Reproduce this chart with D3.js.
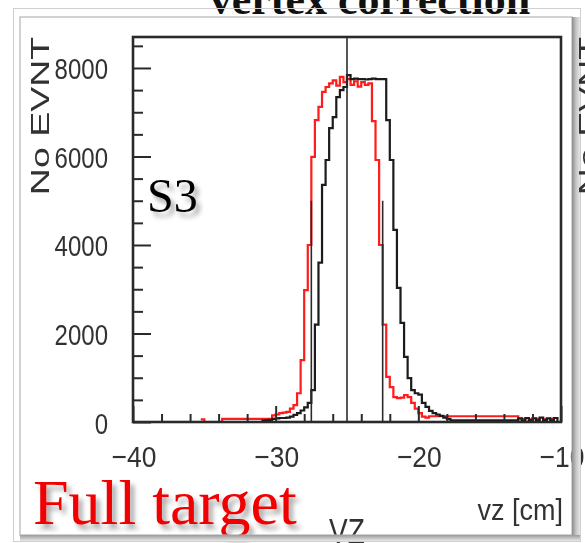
<!DOCTYPE html>
<html>
<head>
<meta charset="utf-8">
<script src="https://cdn.jsdelivr.net/npm/d3@7"></script>
<style>
  html, body { margin: 0; padding: 0; background: #fff; }
  svg { display: block; }
</style>
</head>
<body>
<div id="chart"></div>
<script>
// ---------------- DATA ----------------
const binWidth = 0.25;            // cm
const blackStart = -31.0;         // first bin low edge (cm)
const blackCounts = [
  30, 40, 50, 70, 80, 90, 90, 100, 120, 160, 200, 260, 330, 430, 720, 2200,
  3600, 5360, 5920, 6640, 6890, 7340, 7500, 7570, 7840,
  7750, 7760, 7750, 7750, 7740, 7750, 7760, 7750, 7750, 7750,
  6820, 5920, 4340, 3030, 2240, 1470, 990, 720, 650, 620, 430, 340, 250, 200,
  170, 140, 100, 70,
  40, 40, 40, 40, 40, 40, 40, 40, 40, 40, 40, 40, 40, 40, 40, 40, 40, 40, 40,
  80, 30, 90, 40, 80, 30, 100, 40, 80, 30, 90, 0
];
const redStart = -35.25;
const redCounts = [
  60, 0, 0, 0, 0, 0,
  70, 70, 70, 70, 70, 70, 70, 70, 70, 70, 70, 70, 70, 70,
  150, 170, 200, 210, 230, 300, 380, 650, 1400, 2980, 4000, 5990, 6820, 7120,
  7460, 7570, 7650, 7720, 7600, 7800, 7680, 7750, 7620, 7700, 7580, 7680, 7620, 7650,
  6800, 5920, 4000, 2200, 1020, 790, 560, 540, 550, 610, 560, 430, 300, 200, 120, 100,
  130, 130, 130, 130, 130, 130, 130, 130, 130, 130, 130, 130, 130, 130, 130, 130,
  130, 130, 130, 130, 130, 130, 130, 130, 130,
  0, 70, 0, 60, 0, 70, 0, 60, 0, 70, 0, 0
];
const centerLine = -25.0;
const cutLines = [-27.5, -22.5];
const cutLineTop = 5000;
const xDomain = [-40, -10];
const yDomain = [0, 8700];
const xMajorTicks = [-40, -30, -20, -10];
const xTickLabels = ["\u221240", "\u221230", "\u221220", "\u221210"];
const xMinorTicks = [-38, -36, -34, -32, -28, -26, -24, -22, -18, -16, -14, -12];
const yMajorTicks = [0, 2000, 4000, 6000, 8000];
const yTickLabels = ["0", "2000", "4000", "6000", "8000"];
const yMinorTicks = [500, 1000, 1500, 2500, 3000, 3500, 4500, 5000, 5500, 6500, 7000, 7500, 8500];
const yAxisTitle = "No EVNT";
const xAxisTitle = "vz [cm]";
const histTitle = "VZ";
const slideTitle = "vertex correction";
const panelLabel = "S3";
const caption = "Full target";

// ---------------- LAYOUT ----------------
const W = 585, H = 543;
const plot = { left: 133, right: 561, top: 37, bottom: 422 };

const svg = d3.select("#chart").append("svg")
  .attr("width", W).attr("height", H)
  .attr("font-family", "'Liberation Sans', Arial, sans-serif");

const defs = svg.append("defs");
const sh = defs.append("filter").attr("id", "shadow")
  .attr("x", "-20%").attr("y", "-20%").attr("width", "150%").attr("height", "160%");
sh.append("feDropShadow").attr("dx", 4).attr("dy", 5)
  .attr("stdDeviation", 2.5).attr("flood-color", "#000").attr("flood-opacity", 0.35);
const blur = defs.append("filter").attr("id", "soft");
blur.append("feGaussianBlur").attr("stdDeviation", 0.45);
const gradR = defs.append("linearGradient").attr("id", "gradR")
  .attr("x1", "0").attr("x2", "1").attr("y1", "0").attr("y2", "0");
gradR.append("stop").attr("offset", "0").attr("stop-color", "#8d8d8d");
gradR.append("stop").attr("offset", "0.5").attr("stop-color", "#c4c4c4");
gradR.append("stop").attr("offset", "1").attr("stop-color", "#e6e6e6");
const gradB = defs.append("linearGradient").attr("id", "gradB")
  .attr("x1", "0").attr("x2", "0").attr("y1", "0").attr("y2", "1");
gradB.append("stop").attr("offset", "0").attr("stop-color", "#9a9a9a");
gradB.append("stop").attr("offset", "1").attr("stop-color", "#e8e8e8");

svg.append("rect").attr("width", W).attr("height", H).attr("fill", "#fff");

// slide title (mostly cut off at top)
svg.append("text")
  .attr("x", 370).attr("y", 14)
  .attr("text-anchor", "middle")
  .attr("font-family", "'Liberation Serif', 'Times New Roman', serif")
  .attr("font-weight", "bold")
  .attr("font-size", 44)
  .attr("fill", "#111")
  .text(slideTitle);

// ---------------- SCALES ----------------
const x = d3.scaleLinear().domain(xDomain).range([plot.left, plot.right]);
const y = d3.scaleLinear().domain(yDomain).range([plot.bottom, plot.top]);

const g = svg.append("g").attr("filter", "url(#soft)");

// histograms
function stepPoints(start, counts) {
  const pts = counts.map((c, i) => [start + i * binWidth, c]);
  pts.push([start + counts.length * binWidth, counts[counts.length - 1]]);
  return pts;
}
const line = d3.line()
  .x(d => x(d[0])).y(d => y(d[1]))
  .curve(d3.curveStepAfter);

g.append("path").datum(stepPoints(redStart, redCounts))
  .attr("d", line).attr("fill", "none")
  .attr("stroke", "#ff1a1a").attr("stroke-width", 2.2);
g.append("path").datum(stepPoints(blackStart, blackCounts))
  .attr("d", line).attr("fill", "none")
  .attr("stroke", "#1a1a1a").attr("stroke-width", 2.2);

// vertical lines
g.append("line")
  .attr("x1", x(centerLine)).attr("x2", x(centerLine))
  .attr("y1", y(yDomain[0])).attr("y2", y(yDomain[1]))
  .attr("stroke", "#2a2a2a").attr("stroke-width", 1.6);
g.selectAll("line.cut").data(cutLines).enter().append("line")
  .attr("class", "cut")
  .attr("x1", d => x(d)).attr("x2", d => x(d))
  .attr("y1", y(0)).attr("y2", y(cutLineTop))
  .attr("stroke", "#2a2a2a").attr("stroke-width", 1.6);

// axes (ticks pointing inward)
const axisStyle = sel => {
  sel.select(".domain").remove();
  sel.selectAll(".tick line").attr("stroke", "#2a2a2a").attr("stroke-width", 2);
  sel.selectAll(".tick text").remove();
};
g.append("g").attr("transform", `translate(0,${plot.bottom})`)
  .call(d3.axisBottom(x).tickValues(xMinorTicks).tickSize(-8)).call(axisStyle);
g.append("g").attr("transform", `translate(0,${plot.bottom})`)
  .call(d3.axisBottom(x).tickValues(xMajorTicks).tickSize(-16)).call(axisStyle);
g.append("g").attr("transform", `translate(${plot.left},0)`)
  .call(d3.axisLeft(y).tickValues(yMinorTicks).tickSize(-10)).call(axisStyle);
g.append("g").attr("transform", `translate(${plot.left},0)`)
  .call(d3.axisLeft(y).tickValues(yMajorTicks).tickSize(-18)).call(axisStyle);

// frame
g.append("rect")
  .attr("x", plot.left).attr("y", plot.top)
  .attr("width", plot.right - plot.left).attr("height", plot.bottom - plot.top)
  .attr("fill", "none").attr("stroke", "#2a2a2a").attr("stroke-width", 2.6);

// tick labels
yMajorTicks.forEach((v, i) => {
  g.append("g").attr("transform", `translate(108,${y(v) + 11.5}) scale(1,1.25)`)
    .append("text").attr("text-anchor", "end")
    .attr("font-size", 24).attr("fill", "#333")
    .text(yTickLabels[i]);
});
xMajorTicks.forEach((v, i) => {
  g.append("g").attr("transform", `translate(${x(v) + 1},467) scale(1.1,1.25)`)
    .append("text").attr("text-anchor", "middle")
    .attr("font-size", 24).attr("fill", "#333")
    .text(xTickLabels[i]);
});

// axis titles
g.append("g").attr("transform", "translate(49,116) rotate(-90) scale(1.5,1)")
  .append("text").attr("text-anchor", "middle")
  .attr("font-size", 25).attr("fill", "#333")
  .text(yAxisTitle);
g.append("g").attr("transform", "translate(563,520) scale(1.08,1.2)")
  .append("text").attr("text-anchor", "end")
  .attr("font-size", 25).attr("fill", "#333")
  .text(xAxisTitle);
g.append("g").attr("transform", "translate(347,543) scale(1,1.25)")
  .append("text").attr("text-anchor", "middle")
  .attr("font-size", 28).attr("fill", "#333")
  .text(histTitle);

// panel label and caption (with shadow)
svg.append("text")
  .attr("x", 147).attr("y", 212)
  .attr("font-family", "'Liberation Serif', 'Times New Roman', serif")
  .attr("font-size", 48).attr("fill", "#000")
  .attr("filter", "url(#shadow)")
  .text(panelLabel);
svg.append("text")
  .attr("x", 33).attr("y", 524)
  .attr("font-family", "'Liberation Serif', 'Times New Roman', serif")
  .attr("font-size", 64).attr("fill", "#f00000")
  .attr("filter", "url(#shadow)")
  .text(caption);

// slide panel border
svg.append("rect").attr("x", 13.5).attr("y", 8.5).attr("width", 567).attr("height", 533)
  .attr("fill", "none").attr("stroke", "#cfcfcf").attr("stroke-width", 1);
svg.append("rect").attr("x", 20).attr("y", 17).attr("width", 552).attr("height", 518)
  .attr("fill", "none").attr("stroke", "#b5b5b5").attr("stroke-width", 1.2);
svg.append("rect").attr("x", 572).attr("y", 17).attr("width", 8).attr("height", 524)
  .attr("fill", "url(#gradR)");
svg.append("rect").attr("x", 20).attr("y", 535).attr("width", 560).attr("height", 6)
  .attr("fill", "url(#gradB)");

// neighbouring panel fragment at the right edge
svg.append("g").attr("transform", "translate(597,116) rotate(-90) scale(1.5,1)")
  .append("text").attr("text-anchor", "middle")
  .attr("font-size", 25).attr("fill", "#333")
  .text(yAxisTitle);
</script>
</body>
</html>
